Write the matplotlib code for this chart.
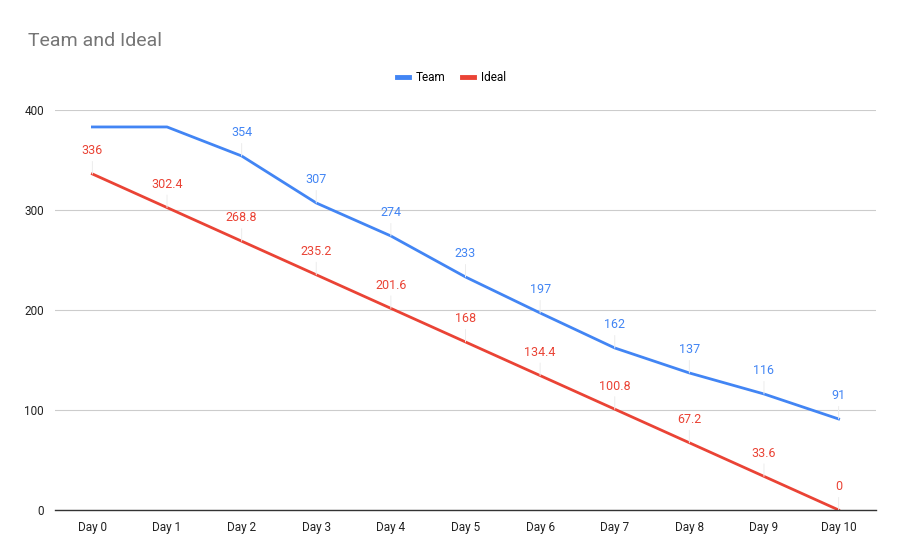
import matplotlib.pyplot as plt
import numpy as np

# Data
days = ['Day 0', 'Day 1', 'Day 2', 'Day 3', 'Day 4', 'Day 5',
        'Day 6', 'Day 7', 'Day 8', 'Day 9', 'Day 10']
team = [383, 383, 354, 307, 274, 233, 197, 162, 137, 116, 91]
ideal = [336, 302.4, 268.8, 235.2, 201.6, 168, 134.4, 100.8, 67.2, 33.6, 0]
team_labeled = [False, False] + [True] * 9

BLUE = '#4285F4'
RED = '#EA4335'

plt.rcParams['font.family'] = ['Roboto', 'DejaVu Sans']

fig = plt.figure(figsize=(9.03, 5.59), dpi=100)
ax = fig.add_axes([0.061, 0.0877, 0.909, 0.7156])

x = np.arange(len(days))
ax.plot(x, team, color=BLUE, linewidth=2, label='Team', zorder=3)
ax.plot(x, ideal, color=RED, linewidth=2, label='Ideal', zorder=3)


def fmt(v):
    return f'{v:g}'


def label_points(values, color, show):
    for xi, v, s in zip(x, values, show):
        if not s:
            continue
        ax.annotate(fmt(v), xy=(xi, v), xytext=(0, 12), textcoords='offset points',
                    ha='center', va='bottom', fontsize=9, color=color,
                    arrowprops=dict(arrowstyle='-', color='#ececec', lw=0.7,
                                    shrinkA=1, shrinkB=0))


label_points(team, BLUE, team_labeled)
label_points(ideal, RED, [True] * len(ideal))

ax.set_xlim(-0.5, 10.5)
ax.set_ylim(0, 400)
ax.set_xticks(x)
ax.set_xticklabels(days)
ax.set_yticks([0, 100, 200, 300, 400])
ax.tick_params(axis='both', length=0, labelsize=8.5, colors='#222222', pad=8)
ax.grid(axis='y', color='#cccccc', linewidth=0.8)
ax.set_axisbelow(True)
for side in ['top', 'right', 'left']:
    ax.spines[side].set_visible(False)
ax.spines['bottom'].set_color('#333333')
ax.spines['bottom'].set_linewidth(1)
ax.spines['bottom'].set_zorder(4)

fig.text(0.031, 0.926, 'Team and Ideal', fontsize=14, color='#757575',
         ha='left', va='center')

fig.legend(loc='center', bbox_to_anchor=(0.5, 0.862), ncol=2, frameon=False,
           fontsize=8.5, handlelength=1.0, handletextpad=0.6, columnspacing=1.4)
leg = fig.legends[0]
for h in leg.legend_handles:
    h.set_linewidth(3.5)

fig.savefig('out.png', dpi=100, facecolor='white')
